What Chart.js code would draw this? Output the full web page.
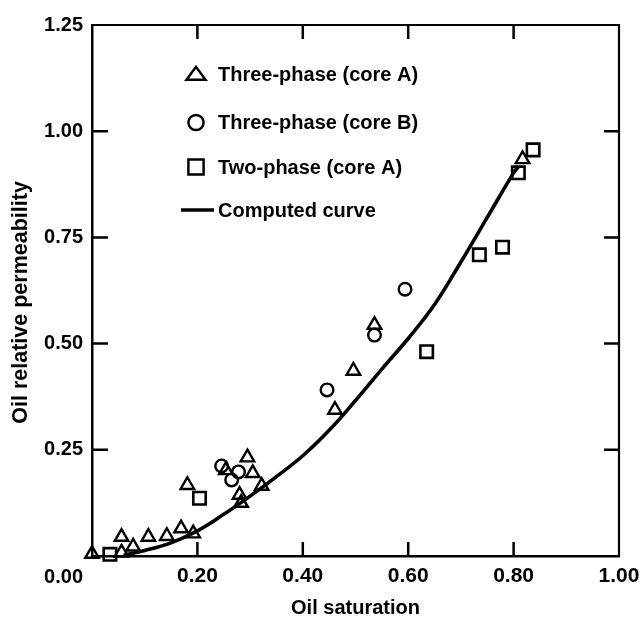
<!DOCTYPE html>
<html><head><meta charset="utf-8">
<style>html,body{margin:0;padding:0;background:#fff;}#wrap{width:640px;height:619px;}</style>
<script src="https://cdn.jsdelivr.net/npm/chart.js@4/dist/chart.umd.min.js"></script>
</head><body><div id="wrap"><canvas id="c" width="640" height="619"></canvas></div>
<script>
// ---- data ----
const seriesLabels = ['Three-phase (core A)', 'Three-phase (core B)', 'Two-phase (core A)', 'Computed curve'];

const triA_x = [0.00, 0.056, 0.056, 0.078, 0.107, 0.142, 0.169, 0.192, 0.181, 0.254, 0.295, 0.305, 0.280, 0.283, 0.322, 0.461, 0.496, 0.536, 0.817];
const triA_y = [0.005, 0.008, 0.045, 0.022, 0.045, 0.047, 0.065, 0.053, 0.167, 0.202, 0.232, 0.195, 0.144, 0.125, 0.165, 0.344, 0.436, 0.544, 0.934];

const cirB_x = [0.246, 0.265, 0.278, 0.446, 0.536, 0.594];
const cirB_y = [0.212, 0.179, 0.198, 0.391, 0.520, 0.628];

const sqA_x = [0.034, 0.204, 0.635, 0.735, 0.779, 0.809, 0.837];
const sqA_y = [0.004, 0.136, 0.481, 0.709, 0.727, 0.902, 0.956];

const curve_x = [0.06, 0.10, 0.15, 0.20, 0.25, 0.30, 0.35, 0.40, 0.45, 0.50, 0.55, 0.60, 0.65, 0.70, 0.75, 0.80, 0.81];
const curve_y = [0.002, 0.013, 0.031, 0.059, 0.098, 0.141, 0.187, 0.236, 0.296, 0.366, 0.44, 0.512, 0.592, 0.692, 0.797, 0.902, 0.918];

const xTitle = 'Oil saturation';
const yTitle = 'Oil relative permeability    ';
const xMin = 0, xMax = 1.0, xStep = 0.2;
const yMin = 0, yMax = 1.25, yStep = 0.25;
const zeroLabel = '0.00';

const pts = (xs, ys) => xs.map((v, i) => ({x: v, y: ys[i]}));

const FONT = "'Liberation Sans', Arial, Helvetica, sans-serif";
const INK = '#000';

function drawMarker(ctx, style, x, y, r) {
  ctx.beginPath();
  if (style === 'triangle') {
    const h = r * 0.75;
    ctx.moveTo(x, y - h);
    ctx.lineTo(x + r, y + h * 0.8);
    ctx.lineTo(x - r, y + h * 0.8);
    ctx.closePath();
  } else if (style === 'circle') {
    ctx.arc(x, y, r * 0.8, 0, Math.PI * 2);
  } else if (style === 'rect') {
    const s = r * 0.8;
    ctx.rect(x - s, y - s, 2 * s, 2 * s);
  }
  ctx.stroke();
}

const deco = {
  id: 'deco',
  beforeDraw(chart) {
    const ctx = chart.ctx;
    ctx.save();
    ctx.fillStyle = '#fff';
    ctx.fillRect(0, 0, chart.width, chart.height);
    ctx.restore();
  },
  afterDraw(chart) {
    const {ctx, chartArea: a, scales} = chart;
    const xs = scales.x, ys = scales.y;
    ctx.save();
    ctx.strokeStyle = INK;
    ctx.lineWidth = 2.2;
    ctx.beginPath();
    ctx.moveTo(a.left, a.top);
    ctx.lineTo(a.right, a.top);
    ctx.lineTo(a.right, a.bottom);
    ctx.stroke();
    // inward tick marks on all four sides
    ctx.lineWidth = 2.5;
    xs.ticks.forEach(t => {
      if (t.value <= xMin + 1e-9 || t.value >= xMax - 1e-9) return;
      const px = xs.getPixelForValue(t.value);
      ctx.beginPath();
      ctx.moveTo(px, a.bottom); ctx.lineTo(px, a.bottom - 14);
      ctx.moveTo(px, a.top); ctx.lineTo(px, a.top + 14);
      ctx.stroke();
    });
    ys.ticks.forEach(t => {
      if (t.value <= yMin + 1e-9 || t.value >= yMax - 1e-9) return;
      const py = ys.getPixelForValue(t.value);
      ctx.beginPath();
      ctx.moveTo(a.left, py); ctx.lineTo(a.left + 16, py);
      ctx.moveTo(a.right, py); ctx.lineTo(a.right - 15, py);
      ctx.stroke();
    });
    // shared corner label
    ctx.fillStyle = INK;
    ctx.font = 'bold 20px ' + FONT;
    ctx.textAlign = 'right';
    ctx.textBaseline = 'middle';
    ctx.fillText(zeroLabel, a.left - 9, a.bottom + 21);

    // legend inside plot
    const rows = [74, 122.5, 167, 210];
    const mx = 196, tx = 218;
    ctx.font = 'bold 20px ' + FONT;
    ctx.textAlign = 'left';
    chart.data.datasets.forEach((ds, i) => {
      const yy = rows[i];
      ctx.strokeStyle = INK;
      if (ds.showLine) {
        ctx.lineWidth = 3.5;
        ctx.beginPath(); ctx.moveTo(181, yy); ctx.lineTo(214, yy); ctx.stroke();
      } else {
        ctx.lineWidth = 2.5;
        drawMarker(ctx, ds.pointStyle, mx, yy, 9.5);
      }
      ctx.fillText(ds.label, tx, yy + 1);
    });
    ctx.restore();
  }
};

new Chart(document.getElementById('c'), {
  type: 'scatter',
  data: {
    datasets: [
      {label: seriesLabels[0], data: pts(triA_x, triA_y), pointStyle: 'triangle', pointRadius: 7.8,
       borderColor: INK, backgroundColor: 'rgba(0,0,0,0)', borderWidth: 2.4, clip: false},
      {label: seriesLabels[1], data: pts(cirB_x, cirB_y), pointStyle: 'circle', pointRadius: 6.3,
       borderColor: INK, backgroundColor: 'rgba(0,0,0,0)', borderWidth: 2.4, clip: false},
      {label: seriesLabels[2], data: pts(sqA_x, sqA_y), pointStyle: 'rect', pointRadius: 8.8,
       borderColor: INK, backgroundColor: 'rgba(0,0,0,0)', borderWidth: 2.6, clip: false},
      {label: seriesLabels[3], data: pts(curve_x, curve_y), showLine: true, pointRadius: 0,
       borderColor: INK, borderWidth: 3.6, tension: 0.4, fill: false, clip: false}
    ]
  },
  options: {
    responsive: false,
    animation: false,
    devicePixelRatio: 1,
    layout: {padding: {left: 0, right: 21, top: 25, bottom: 0}},
    plugins: {legend: {display: false}, tooltip: {enabled: false}},
    scales: {
      x: {
        type: 'linear', min: xMin, max: xMax,
        grid: {display: false, drawTicks: false},
        border: {display: true, color: INK, width: 2.5},
        ticks: {stepSize: xStep, padding: 8, color: INK, font: {family: FONT, size: 21, weight: 'bold'},
                maxRotation: 0, autoSkip: false,
                callback: v => (Math.abs(v) < 1e-9 ? '' : Number(v).toFixed(2))},
        title: {display: true, text: xTitle, color: INK, font: {family: FONT, size: 20, weight: 'bold'},
                padding: {top: 0, bottom: -1}},
        afterFit: s => { s.height = 63; s.paddingRight = 0; s.paddingLeft = 0; }
      },
      y: {
        type: 'linear', min: yMin, max: yMax,
        grid: {display: false, drawTicks: false},
        border: {display: true, color: INK, width: 2.5},
        ticks: {stepSize: yStep, padding: 9, color: INK, font: {family: FONT, size: 20, weight: 'bold'},
                autoSkip: false,
                callback: v => (Math.abs(v) < 1e-9 ? '' : Number(v).toFixed(2))},
        title: {display: true, text: yTitle, color: INK, font: {family: FONT, size: 21.5, weight: 'bold'},
                padding: {top: 8, bottom: 0}},
        afterFit: s => { s.width = 92; s.paddingTop = 0; s.paddingBottom = 0; }
      }
    }
  },
  plugins: [deco]
});
</script>
</body></html>
